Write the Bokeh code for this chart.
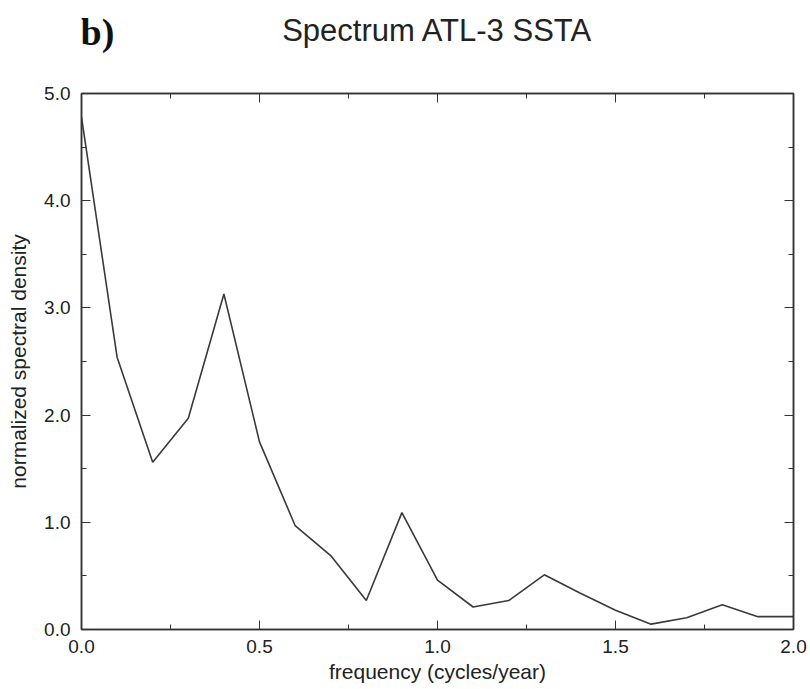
from bokeh.plotting import figure
from bokeh.models import Range1d, LinearAxis, FixedTicker
from bokeh.layouts import column
from bokeh.core.properties import value
from bokeh.embed import file_html
from bokeh.resources import INLINE

# Data
freq = [0.0, 0.1, 0.2, 0.3, 0.4, 0.5, 0.6, 0.7, 0.8, 0.9, 1.0,
        1.1, 1.2, 1.3, 1.4, 1.5, 1.6, 1.7, 1.8, 1.9, 2.0]
density = [4.78, 2.54, 1.56, 1.97, 3.13, 1.75, 0.97, 0.69, 0.27, 1.09, 0.46,
           0.21, 0.27, 0.51, 0.34, 0.18, 0.05, 0.11, 0.23, 0.12, 0.12]
x_ticks = [0.0, 0.5, 1.0, 1.5, 2.0]
y_ticks = [0.0, 1.0, 2.0, 3.0, 4.0, 5.0]
x_minor = [0.25, 0.75, 1.25, 1.75]
y_minor = [0.5, 1.5, 2.5, 3.5, 4.5]
title_text = "Spectrum ATL-3 SSTA"
panel_tag = "b)"
x_label = "frequency (cycles/year)"
y_label = "normalized spectral density"

FONT = "Liberation Sans"
AX = "#333333"
TXT = "#222222"

# frame edges of the main plot (pixels)
L, R = 81, 793

# ---- header strip with panel tag and title ----
TOP_H = 70
head = figure(width=810, height=TOP_H, output_backend="svg", toolbar_location=None,
              x_range=Range1d(L, R), y_range=Range1d(0, TOP_H),
              min_border=0)
head.axis.visible = False
head.grid.visible = False
head.outline_line_color = None
head.title.visible = False
head.text(x=[(L + R) / 2], y=[TOP_H - 30], text=[title_text], text_font=value(FONT),
          text_font_size="31px", text_align="center", text_baseline="middle",
          text_color=TXT)
head.text(x=[80], y=[TOP_H - 31], text=[panel_tag], text_font=value("Liberation Serif"),
          text_font_style="bold", text_font_size="38px", text_align="left",
          text_baseline="middle", text_color="#111111")

# ---- main plot ----
p = figure(width=810, height=689 - TOP_H, output_backend="svg", toolbar_location=None,
           x_range=Range1d(0, 2), y_range=Range1d(0, 5),
           min_border_left=L, min_border_right=810 - R, min_border_top=93 - TOP_H,
           min_border_bottom=60)
p.title.visible = False
p.grid.visible = False
p.outline_line_color = AX
p.outline_line_width = 1.5

p.line(freq, density, line_color="#3a3a3a", line_width=1.6)


def style(ax, ticks, minor, show_labels=True):
    ax.ticker = FixedTicker(ticks=ticks, minor_ticks=minor)
    ax.major_tick_in = 9
    ax.major_tick_out = 0
    ax.minor_tick_in = 5
    ax.minor_tick_out = 0
    ax.axis_line_color = AX
    ax.axis_line_width = 1.5
    ax.major_tick_line_color = AX
    ax.minor_tick_line_color = AX
    ax.major_label_text_font = FONT
    if show_labels:
        ax.major_label_text_font_size = "19px"
        ax.major_label_text_color = TXT
    else:
        ax.major_label_text_font_size = "0px"
        ax.major_label_text_color = None
        ax.major_label_standoff = 0
    ax.axis_label_text_font = FONT
    ax.axis_label_text_font_style = "normal"
    ax.axis_label_text_font_size = "21px"
    ax.axis_label_text_color = TXT


xa = p.xaxis[0]
style(xa, x_ticks, x_minor)
xa.major_label_overrides = {t: f"{t:.1f}" for t in x_ticks}
xa.major_label_standoff = 10
xa.axis_label = x_label
xa.axis_label_standoff = 4

ya = p.yaxis[0]
style(ya, y_ticks, y_minor)
ya.major_label_overrides = {t: f"{t:.1f}" for t in y_ticks}
ya.major_label_standoff = 11
ya.axis_label = y_label
ya.axis_label_standoff = 11

top = LinearAxis()
style(top, x_ticks, x_minor, show_labels=False)
p.add_layout(top, "above")
right = LinearAxis()
style(right, y_ticks, y_minor, show_labels=False)
p.add_layout(right, "right")

layout = column(head, p, spacing=0)
open("out.html", "w").write(file_html(layout, INLINE))
